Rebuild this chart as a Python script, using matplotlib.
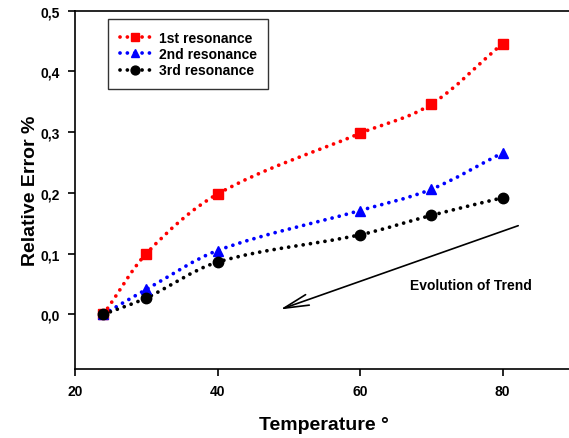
import matplotlib
matplotlib.use("Agg")
import matplotlib.pyplot as plt
from matplotlib.path import Path
from matplotlib.patches import PathPatch
from matplotlib.lines import Line2D
import numpy as np

plt.rcParams['font.family'] = ['Liberation Sans', 'DejaVu Sans']

# temperatures and relative errors for the three resonances
temperature = [24, 30, 40, 60, 70, 80]
err_1st = [0.0, 0.100, 0.198, 0.298, 0.346, 0.446]
err_2nd = [0.0, 0.041, 0.105, 0.171, 0.206, 0.266]
err_3rd = [0.0, 0.027, 0.086, 0.131, 0.163, 0.192]

labels = ['1st resonance', '2nd resonance', '3rd resonance']
colors = ['#ff0000', '#0000ff', '#000000']
markers = ['s', '^', 'o']
msizes = [7, 7.5, 7.5]

xticks = [20, 40, 60, 80]
yticks = [0.0, 0.1, 0.2, 0.3, 0.4, 0.5]
ytick_labels = ['0,0', '0,1', '0,2', '0,3', '0,4', '0,5']

LW = 2.7
DOTS = (0, (0.01, 1.95))


def spline_path(x, y):
    # smooth curve through the points as cubic bezier segments
    x = np.asarray(x, float)
    y = np.asarray(y, float)
    n = len(x)
    m = np.zeros(n)
    m[0] = (y[1] - y[0]) / (x[1] - x[0])
    m[-1] = (y[-1] - y[-2]) / (x[-1] - x[-2])
    for i in range(1, n - 1):
        m[i] = (y[i + 1] - y[i - 1]) / (x[i + 1] - x[i - 1])
    verts = [(x[0], y[0])]
    codes = [Path.MOVETO]
    for i in range(n - 1):
        h = x[i + 1] - x[i]
        verts += [(x[i] + h / 3, y[i] + m[i] * h / 3),
                  (x[i + 1] - h / 3, y[i + 1] - m[i + 1] * h / 3),
                  (x[i + 1], y[i + 1])]
        codes += [Path.CURVE4] * 3
    return Path(verts, codes)


fig = plt.figure(figsize=(5.69, 4.39), dpi=100)
ax = fig.add_axes([0.1318, 0.1572, 0.8766, 0.8161])

handles = []
for ys, lab, c, mk, ms in zip([err_1st, err_2nd, err_3rd], labels, colors, markers, msizes):
    patch = PathPatch(spline_path(temperature, ys), facecolor='none', edgecolor=c,
                      linewidth=LW, linestyle=DOTS, capstyle='round')
    ax.add_patch(patch)
    ax.plot(temperature, ys, linestyle='none', marker=mk, color=c, markersize=ms, zorder=3)
    handles.append(Line2D([], [], color=c, linewidth=LW, linestyle=DOTS,
                          dash_capstyle='round', marker=mk, markersize=ms * 0.85))

ax.set_xlim(20, 90)
ax.set_ylim(-0.09, 0.5)
ax.set_xticks(xticks)
ax.set_xticklabels([str(t) for t in xticks], fontsize=10, fontweight='bold')
ax.set_yticks(yticks)
ax.set_yticklabels(ytick_labels, fontsize=10, fontweight='bold')
ax.tick_params(direction='out', length=5, width=1.2, pad=6)
for s in ['left', 'bottom', 'top']:
    ax.spines[s].set_linewidth(1.2)
ax.spines['right'].set_visible(False)

ax.set_xlabel('Temperature °', fontsize=14, fontweight='bold', labelpad=13)
ax.set_ylabel('Relative Error %', fontsize=14, fontweight='bold', labelpad=1)

leg = ax.legend(handles, labels, loc='upper left', bbox_to_anchor=(0.066, 0.977),
                prop={'size': 10, 'weight': 'bold'}, frameon=True, fancybox=False,
                edgecolor='black', handlelength=2.2, handletextpad=0.6,
                labelspacing=0.17, borderpad=0.85, borderaxespad=0, numpoints=1)
leg.get_frame().set_linewidth(1.0)

ax.annotate('', xy=(48.8, 0.008), xytext=(82.2, 0.146),
            arrowprops=dict(arrowstyle='->,head_length=1.8,head_width=0.4',
                            color='black', lw=1.2, shrinkA=0, shrinkB=0))
ax.text(75.5, 0.049, 'Evolution of Trend', fontsize=10, fontweight='bold',
        ha='center', va='center')

fig.savefig('out.png', dpi=100)
